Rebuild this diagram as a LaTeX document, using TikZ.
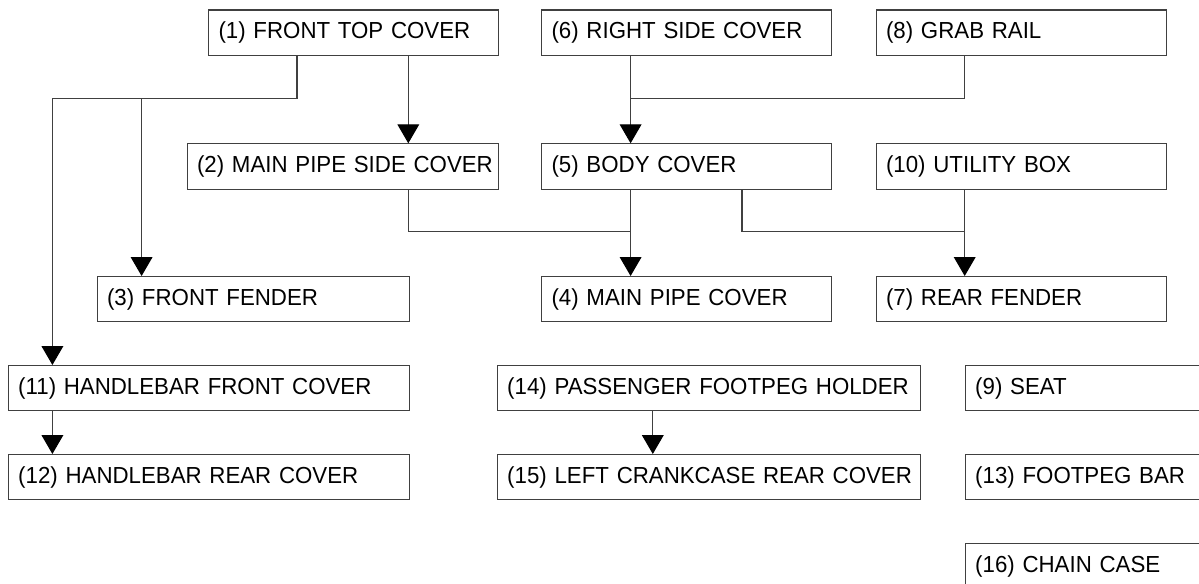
\documentclass[tikz,border=0pt]{standalone}
\usepackage{fontspec}
\setmainfont{Liberation Sans}[FakeStretch=0.96]
\usetikzlibrary{arrows.meta}

\begin{document}
\begin{tikzpicture}[x=0.025cm, y=-0.025cm, font=\fontsize{16.5}{19}\selectfont,
  part/.style={draw=black!75, line width=0.75pt, anchor=north west, minimum height=1.135cm,
    inner xsep=0.25cm, inner ysep=0pt, text width=#1,
    execute at begin node=\hbox\bgroup, execute at end node=\egroup},
  link/.style={draw=black!75, line width=0.75pt},
  arr/.style={link, -{Triangle[width=15.5pt,length=13.5pt,color=black]}},
]
\clip (0,0) rectangle (1199,584);

% ---------------- row 1 ----------------
\node[part=6.74cm] (n1)  at (208,9.5)   {(1) FRONT TOP COVER};
\node[part=6.75cm] (n6)  at (541,9.5)   {(6) RIGHT SIDE COVER};
\node[part=6.75cm] (n8)  at (875.5,9.5) {(8) GRAB RAIL};

% ---------------- row 2 ----------------
\node[part=7.28cm] (n2)  at (186.5,143.3) {(2) MAIN PIPE SIDE COVER};
\node[part=6.75cm] (n5)  at (541,143.3)   {(5) BODY COVER};
\node[part=6.75cm] (n10) at (875.5,143.3) {(10) UTILITY BOX};

% ---------------- row 3 ----------------
\node[part=7.3cm]  (n3)  at (96.5,276)  {(3) FRONT FENDER};
\node[part=6.75cm] (n4)  at (541,276)   {(4) MAIN PIPE COVER};
\node[part=6.75cm] (n7)  at (875.5,276) {(7) REAR FENDER};

% ---------------- rows 4 to 6 ----------------
\node[part=9.52cm]  (n11) at (7.7,365)   {(11) HANDLEBAR FRONT COVER};
\node[part=10.09cm] (n14) at (496.7,365) {(14) PASSENGER FOOTPEG HOLDER};
\node[part=6.75cm]  (n9)  at (964.7,365) {(9) SEAT};
\node[part=9.52cm]  (n12) at (7.7,454)   {(12) HANDLEBAR REAR COVER};
\node[part=10.09cm] (n15) at (496.7,454) {(15) LEFT CRANKCASE REAR COVER};
\node[part=6.75cm]  (n13) at (964.7,454) {(13) FOOTPEG BAR};
\node[part=6.75cm]  (n16) at (964.7,543) {(16) CHAIN CASE};

% ---------------- connector columns and rows ----------------
\coordinate (colA) at (52.4,0);
\coordinate (colB) at (141.6,0);
\coordinate (colC) at (408.3,0);
\coordinate (colD) at (630.6,0);
\coordinate (colE) at (742,0);
\coordinate (colF) at (964.7,0);
\coordinate (colG) at (652.8,0);
\coordinate (colH) at (297,0);
\coordinate (rowA) at (0,98.3);
\coordinate (rowB) at (0,231.7);

% ---------------- connectors ----------------
\draw[arr] (n1.south -| colH) |- (rowA -| colA) -- (n11.north -| colA);
\draw[arr] (rowA -| colB) -- (n3.north -| colB);
\draw[arr] (n1.south -| colC) -- (n2.north -| colC);
\draw[arr] (n6.south -| colD) -- (n5.north -| colD);
\draw[link] (n8.south -| colF) |- (rowA -| colD);
\draw[link] (n2.south -| colC) |- (rowB -| colD);
\draw[arr] (n5.south -| colD) -- (n4.north -| colD);
\draw[link] (n5.south -| colE) |- (rowB -| colF);
\draw[arr] (n10.south -| colF) -- (n7.north -| colF);
\draw[arr] (n11.south -| colA) -- (n12.north -| colA);
\draw[arr] (n14.south -| colG) -- (n15.north -| colG);
\end{tikzpicture}
\end{document}
